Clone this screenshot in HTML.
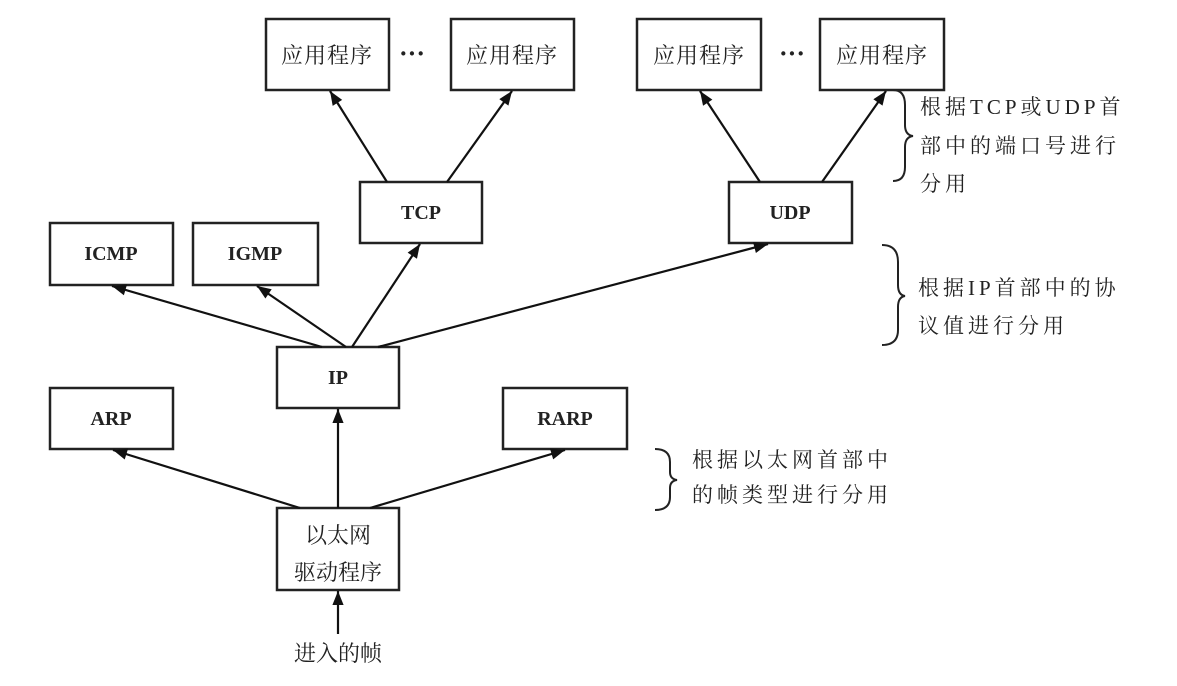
<!DOCTYPE html>
<html><head><meta charset="utf-8"><style>
body{margin:0;background:#fff;}
svg text{font-family:"Liberation Serif","Noto Serif CJK SC",serif;fill:#222;}
.b{font-weight:bold;font-size:20px;}
.c{font-size:22px;}
.r{font-size:21px;letter-spacing:4px;}
</style></head><body>
<svg width="1177" height="681" viewBox="0 0 1177 681" xmlns="http://www.w3.org/2000/svg">
<defs><marker id="a" viewBox="0 0 10 10" refX="10" refY="5" markerWidth="18" markerHeight="14" orient="auto" markerUnits="userSpaceOnUse"><path d="M0,1 L10,5 L0,9 z" fill="#111"/></marker></defs>
<g fill="none" stroke="#222" stroke-width="2.5">
<rect x="266" y="19" width="123" height="71"/>
<rect x="451" y="19" width="123" height="71"/>
<rect x="637" y="19" width="124" height="71"/>
<rect x="820" y="19" width="124" height="71"/>
<rect x="360" y="182" width="122" height="61"/>
<rect x="729" y="182" width="123" height="61"/>
<rect x="50" y="223" width="123" height="62"/>
<rect x="193" y="223" width="125" height="62"/>
<rect x="277" y="347" width="122" height="61"/>
<rect x="50" y="388" width="123" height="61"/>
<rect x="503" y="388" width="124" height="61"/>
<rect x="277" y="508" width="122" height="82"/>
</g>
<g stroke="#111" stroke-width="2.2" marker-end="url(#a)">
<line x1="387" y1="182" x2="330" y2="91"/>
<line x1="447" y1="182" x2="512" y2="91"/>
<line x1="760" y1="182" x2="700" y2="91"/>
<line x1="822" y1="182" x2="886" y2="91"/>
<line x1="322" y1="347" x2="112" y2="286"/>
<line x1="346" y1="347" x2="257" y2="286"/>
<line x1="352" y1="347" x2="420" y2="244"/>
<line x1="378" y1="347" x2="768" y2="244"/>
<line x1="300" y1="508" x2="113" y2="450"/>
<line x1="338" y1="508" x2="338" y2="409"/>
<line x1="370" y1="508" x2="565" y2="450"/>
<line x1="338" y1="634" x2="338" y2="591"/>
</g>
<g fill="none" stroke="#222" stroke-width="2">
<path d="M893,90 Q905,90 905,105 L905,125 Q905,135 913,136 Q905,137 905,147 L905,167 Q905,181 893,181"/>
<path d="M882,245 Q898,245 898,262 L898,285 Q898,295 905,296 Q898,297 898,307 L898,330 Q898,345 882,345"/>
<path d="M655,449 Q670,449 670,462 L670,472 Q670,479 677,480 Q670,481 670,488 L670,497 Q670,510 655,510"/>
</g>
<g class="c">
<text x="327" y="63" text-anchor="middle" letter-spacing="1">应用程序</text>
<text x="512" y="63" text-anchor="middle" letter-spacing="1">应用程序</text>
<text x="699" y="63" text-anchor="middle" letter-spacing="1">应用程序</text>
<text x="882" y="63" text-anchor="middle" letter-spacing="1">应用程序</text>
<text x="338" y="543" text-anchor="middle">以太网</text>
<text x="338" y="580" text-anchor="middle">驱动程序</text>
<text x="338" y="661" text-anchor="middle">进入的帧</text>
</g>
<g class="r">
<text x="920" y="114">根据TCP或UDP首</text>
<text x="920" y="153">部中的端口号进行</text>
<text x="920" y="191">分用</text>
<text x="918" y="295">根据IP首部中的协</text>
<text x="918" y="333">议值进行分用</text>
<text x="692" y="467">根据以太网首部中</text>
<text x="692" y="502">的帧类型进行分用</text>
</g>
<g font-size="26" font-weight="bold" text-anchor="middle"><text x="412" y="62">···</text><text x="792" y="62">···</text></g>
<g class="b" text-anchor="middle">
<text x="421" y="219">TCP</text>
<text x="790" y="219">UDP</text>
<text x="111" y="260">ICMP</text>
<text x="255" y="260">IGMP</text>
<text x="338" y="384">IP</text>
<text x="111" y="425">ARP</text>
<text x="565" y="425">RARP</text>
</g>
</svg>
</body></html>
